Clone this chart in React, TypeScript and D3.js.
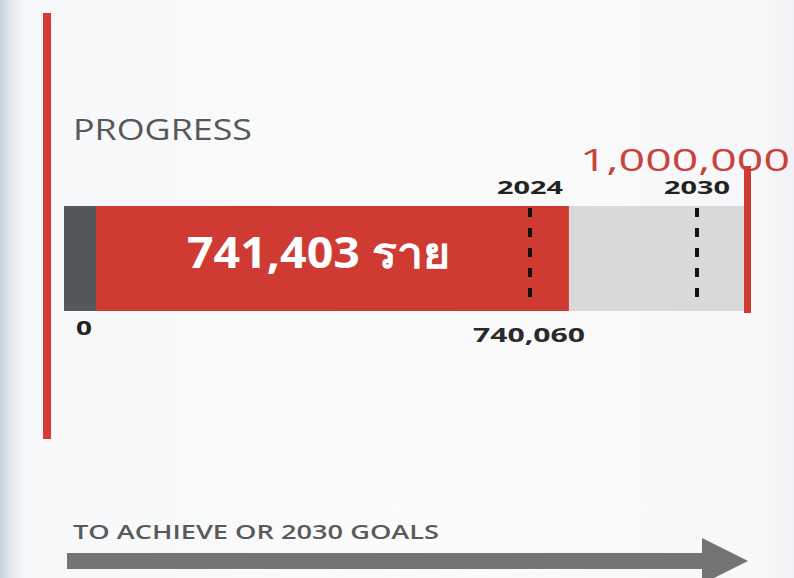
import React from 'react';
import * as d3 from 'd3';

// values
const achievedValue = 741403;
const targetValue = 1000000;
const milestoneYears = [2024, 2030];
const milestoneYearLabels = ['2024', '2030'];
const milestoneValueLabels = ['740,060', ''];
const achievedLabel = '741,403 ราย';
const targetLabel = '1,000,000';
const zeroLabel = '0';

const W = 794;
const H = 578;
const barTop = 206;
const barH = 105;
const capW = 32;
const FONT = "'Open Sans', 'Noto Sans', 'DejaVu Sans', sans-serif";

export default function App() {
  const x = d3.scaleLinear().domain([0, targetValue]).range([64, 745]);
  const yearX = d3.scaleLinear().domain([milestoneYears[0], milestoneYears[1]]).range([530, 697]);

  const arrowY = 561;
  const arrowPath = d3.path();
  arrowPath.moveTo(67, arrowY - 8);
  arrowPath.lineTo(702, arrowY - 8);
  arrowPath.lineTo(702, arrowY - 23);
  arrowPath.lineTo(748, arrowY);
  arrowPath.lineTo(702, arrowY + 23);
  arrowPath.lineTo(702, arrowY + 8);
  arrowPath.lineTo(67, arrowY + 8);
  arrowPath.closePath();

  return (
    <svg width={W} height={H} style={{ position: 'absolute', left: 0, top: 0 }}>
      <defs>
        <linearGradient id="bg" x1="0" x2="1" y1="0" y2="0">
          <stop offset="0" stopColor="#c6d2dc" />
          <stop offset="0.012" stopColor="#dfe6ec" />
          <stop offset="0.03" stopColor="#f6f8f9" />
          <stop offset="0.5" stopColor="#fbfbfb" />
          <stop offset="0.96" stopColor="#f8f8fa" />
          <stop offset="1" stopColor="#f1f2f5" />
        </linearGradient>
      </defs>
      <rect x={0} y={0} width={W} height={H} fill="url(#bg)" />

      {/* left accent line */}
      <rect x={43} y={13} width={8} height={426} fill="#d63a34" />

      <text x={73} y={140} fontFamily={FONT} fontSize={30} fill="#585858" fontWeight={500}
        textLength={179} lengthAdjust="spacingAndGlyphs">
        PROGRESS
      </text>
      <text x={580} y={171} fontFamily={FONT} fontSize={31} fill="#c9423d" fontWeight={500}
        textLength={210} lengthAdjust="spacingAndGlyphs">
        {targetLabel}
      </text>

      {/* bar */}
      <rect x={x(0)} y={barTop} width={x(targetValue) - x(0)} height={barH} fill="#d9d9d9" />
      <rect x={x(0) + capW} y={barTop} width={x(achievedValue) - x(0) - capW} height={barH} fill="#cf3b33" />
      <rect x={x(0)} y={barTop} width={capW} height={barH} fill="#54575b" />
      <rect x={x(targetValue) - 1} y={166} width={7} height={147} fill="#cf3b33" />

      <text
        x={187}
        y={268}
        fontFamily={FONT}
        fontSize={43}
        fontWeight={700}
        fill="#ffffff"
        textLength={263}
        lengthAdjust="spacingAndGlyphs"
      >
        {achievedLabel}
      </text>

      {milestoneYears.map((yr, i) => (
        <g key={yr}>
          <line
            x1={yearX(yr)}
            x2={yearX(yr)}
            y1={208}
            y2={304}
            stroke="#111"
            strokeWidth={4}
            strokeDasharray="9 11"
          />
          <text x={yearX(yr) - 33} y={194} fontFamily={FONT} fontSize={18} fontWeight={700} fill="#222"
            textLength={66} lengthAdjust="spacingAndGlyphs">
            {milestoneYearLabels[i]}
          </text>
          {milestoneValueLabels[i] && (
            <text x={yearX(yr) - 57} y={342} fontFamily={FONT} fontSize={20} fontWeight={700} fill="#2a2a2a"
              textLength={112} lengthAdjust="spacingAndGlyphs">
              {milestoneValueLabels[i]}
            </text>
          )}
        </g>
      ))}

      <text x={76} y={335} fontFamily={FONT} fontSize={20} fontWeight={700} fill="#222"
        textLength={16} lengthAdjust="spacingAndGlyphs">
        {zeroLabel}
      </text>

      <text x={73} y={539} fontFamily={FONT} fontSize={20} fontWeight={600} fill="#5a5a5a"
        textLength={366} lengthAdjust="spacingAndGlyphs">
        TO ACHIEVE OR 2030 GOALS
      </text>
      <path d={arrowPath.toString()} fill="#747474" />
    </svg>
  );
}
